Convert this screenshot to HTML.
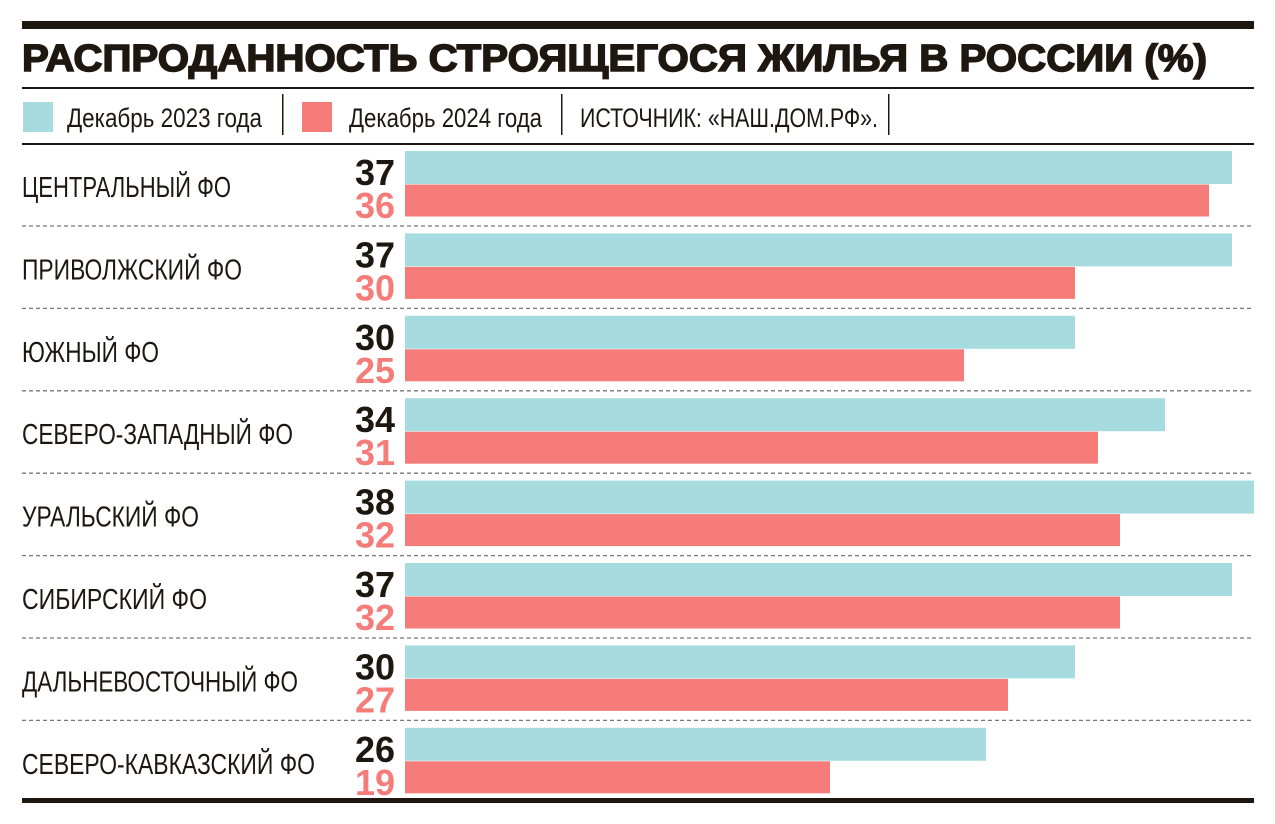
<!DOCTYPE html>
<html><head><meta charset="utf-8"><style>html,body{margin:0;padding:0;background:#fff}svg{display:block}</style></head><body>
<svg width="1275" height="824" viewBox="0 0 1275 824" xmlns="http://www.w3.org/2000/svg" font-family="'Liberation Sans','DejaVu Sans',sans-serif">
<rect x="22" y="21" width="1232" height="8" fill="#1e1710"/>
<text x="22" y="71" font-size="38" font-weight="bold" fill="#1e1710" textLength="1185" lengthAdjust="spacingAndGlyphs" stroke="#1e1710" stroke-width="1.5">РАСПРОДАННОСТЬ СТРОЯЩЕГОСЯ ЖИЛЬЯ В РОССИИ (%)</text>
<rect x="22" y="87" width="1232" height="2" fill="#1e1710"/>
<rect x="22" y="143" width="1232" height="2" fill="#1e1710"/>
<rect x="23" y="102" width="30" height="30" fill="#a6dbdf"/>
<text x="67" y="127" font-size="27" fill="#1e1710" textLength="195" lengthAdjust="spacingAndGlyphs">Декабрь 2023 года</text>
<rect x="282" y="94" width="1.5" height="41" fill="#1e1710"/>
<rect x="302" y="102" width="30" height="30" fill="#f67c7a"/>
<text x="349" y="127" font-size="27" fill="#1e1710" textLength="193" lengthAdjust="spacingAndGlyphs">Декабрь 2024 года</text>
<rect x="561" y="94" width="1.5" height="41" fill="#1e1710"/>
<text x="580" y="127" font-size="27" fill="#1e1710" textLength="298" lengthAdjust="spacingAndGlyphs">ИСТОЧНИК: «НАШ.ДОМ.РФ».</text>
<rect x="888" y="94" width="1.5" height="41" fill="#1e1710"/>

<g fill="#a6dbdf">
<rect x="405" y="151" width="827" height="33"/>
<rect x="405" y="233.4" width="827" height="33"/>
<rect x="405" y="315.8" width="670" height="33"/>
<rect x="405" y="398.2" width="760" height="33"/>
<rect x="405" y="480.6" width="849" height="33"/>
<rect x="405" y="563" width="827" height="33"/>
<rect x="405" y="645.4" width="670" height="33"/>
<rect x="405" y="727.8" width="581" height="33"/>
</g>
<g fill="#f67c7a">
<rect x="405" y="184.5" width="804" height="32"/>
<rect x="405" y="266.9" width="670" height="32"/>
<rect x="405" y="349.3" width="559" height="32"/>
<rect x="405" y="431.7" width="693" height="32"/>
<rect x="405" y="514.1" width="715" height="32"/>
<rect x="405" y="596.5" width="715" height="32"/>
<rect x="405" y="678.9" width="603" height="32"/>
<rect x="405" y="761.3" width="425" height="32"/>
</g>
<g font-size="28.5" fill="#1e1710">
<text x="22" y="197" textLength="209" lengthAdjust="spacingAndGlyphs">ЦЕНТРАЛЬНЫЙ ФО</text>
<text x="22" y="279.4" textLength="220" lengthAdjust="spacingAndGlyphs">ПРИВОЛЖСКИЙ ФО</text>
<text x="22" y="361.8" textLength="137" lengthAdjust="spacingAndGlyphs">ЮЖНЫЙ ФО</text>
<text x="22" y="444.2" textLength="271" lengthAdjust="spacingAndGlyphs">СЕВЕРО-ЗАПАДНЫЙ ФО</text>
<text x="22" y="526.6" textLength="177" lengthAdjust="spacingAndGlyphs">УРАЛЬСКИЙ ФО</text>
<text x="22" y="609" textLength="185" lengthAdjust="spacingAndGlyphs">СИБИРСКИЙ ФО</text>
<text x="22" y="691.4" textLength="276" lengthAdjust="spacingAndGlyphs">ДАЛЬНЕВОСТОЧНЫЙ ФО</text>
<text x="22" y="773.8" textLength="293" lengthAdjust="spacingAndGlyphs">СЕВЕРО-КАВКАЗСКИЙ ФО</text>
</g>
<g font-size="36" font-weight="bold" fill="#1e1710" text-anchor="end">
<text x="395" y="185">37</text>
<text x="395" y="267.4">37</text>
<text x="395" y="349.8">30</text>
<text x="395" y="432.2">34</text>
<text x="395" y="514.6">38</text>
<text x="395" y="597">37</text>
<text x="395" y="679.4">30</text>
<text x="395" y="761.8">26</text>
</g>
<g font-size="36" font-weight="bold" fill="#f67c7a" text-anchor="end">
<text x="395" y="218">36</text>
<text x="395" y="300.4">30</text>
<text x="395" y="382.8">25</text>
<text x="395" y="465.2">31</text>
<text x="395" y="547.6">32</text>
<text x="395" y="630">32</text>
<text x="395" y="712.4">27</text>
<text x="395" y="794.8">19</text>
</g>
<g stroke="#777" stroke-width="1.3" stroke-dasharray="4,3">
<line x1="22" x2="1254" y1="226" y2="226"/>
<line x1="22" x2="1254" y1="308.4" y2="308.4"/>
<line x1="22" x2="1254" y1="390.8" y2="390.8"/>
<line x1="22" x2="1254" y1="473.2" y2="473.2"/>
<line x1="22" x2="1254" y1="555.6" y2="555.6"/>
<line x1="22" x2="1254" y1="638" y2="638"/>
<line x1="22" x2="1254" y1="720.4" y2="720.4"/>
</g>
<rect x="22" y="798" width="1232" height="5" fill="#1e1710"/>
</svg>
</body></html>
